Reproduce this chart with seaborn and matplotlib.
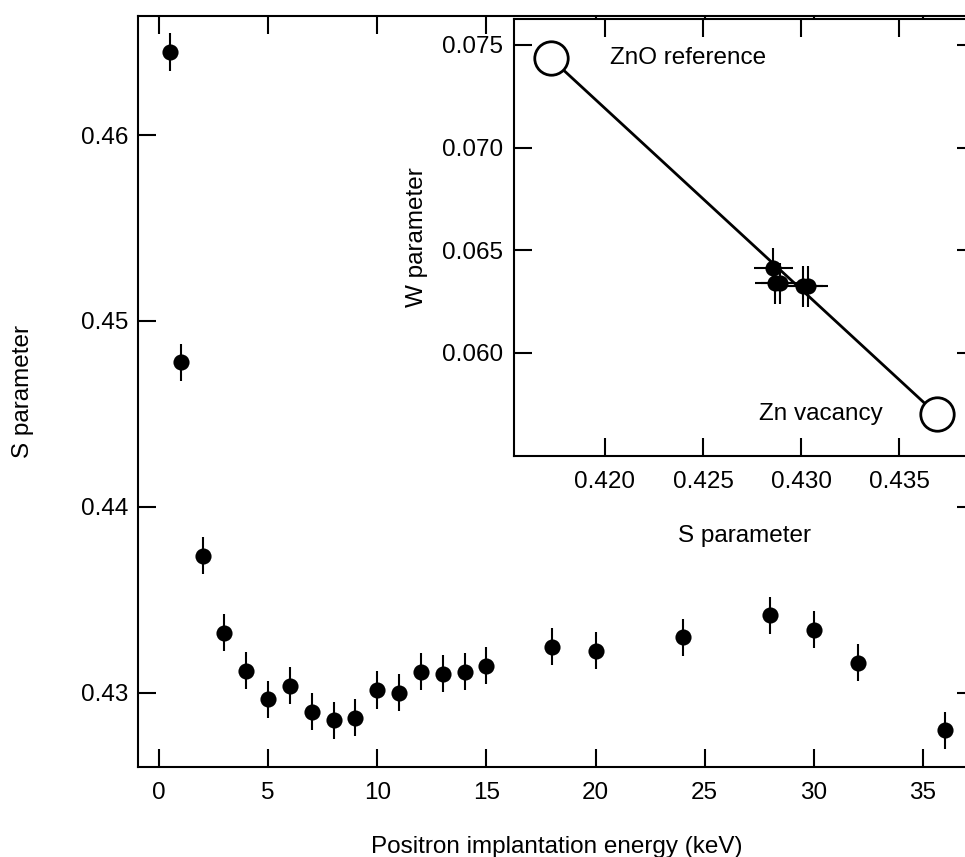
import numpy as np
import pandas as pd
import matplotlib
matplotlib.use("Agg")
import matplotlib.pyplot as plt
import seaborn as sns
from matplotlib.ticker import FormatStrFormatter

# ---- data ----
energy = [0.5, 1, 2, 3, 4, 5, 6, 7, 8, 9, 10, 11, 12, 13, 14, 15, 18, 20, 24, 28, 30, 32, 36]
s_param = [0.46447, 0.44777, 0.43738, 0.43323, 0.43120, 0.42966, 0.43038, 0.42899,
           0.42853, 0.42867, 0.43015, 0.43000, 0.43113, 0.43102, 0.43113, 0.43145,
           0.43248, 0.43226, 0.43298, 0.43418, 0.43339, 0.43162, 0.42799]
s_err = [0.001] * len(energy)

inset_s = [0.42858, 0.42867, 0.42893, 0.43010, 0.43036]
inset_w = [0.06411, 0.06338, 0.06338, 0.06325, 0.06325]
inset_s_err = [0.001] * len(inset_s)
inset_w_err = [0.001] * len(inset_w)

ref_labels = ["ZnO reference", "Zn vacancy"]
ref_s = [0.41725, 0.4369]
ref_w = [0.07435, 0.0570]
label_s = [0.42027, 0.42786]
label_w = [0.07437, 0.05704]

main_xticks = [0, 5, 10, 15, 20, 25, 30, 35]
main_yticks = [0.43, 0.44, 0.45, 0.46]
inset_xticks = [0.420, 0.425, 0.430, 0.435]
inset_yticks = [0.060, 0.065, 0.070, 0.075]

# ---- style ----
sns.set_style("white")
plt.rcParams['font.family'] = ['Liberation Sans', 'DejaVu Sans']
plt.rcParams['text.color'] = 'black'
plt.rcParams['axes.labelcolor'] = 'black'
plt.rcParams['xtick.color'] = 'black'
plt.rcParams['ytick.color'] = 'black'
FS = 17.5
plt.rcParams['font.size'] = FS

W, H = 965, 857
fig = plt.figure(figsize=(W / 100, H / 100), dpi=100)

def frac(l, t, r, b):
    return [l / W, 1 - b / H, (r - l) / W, (b - t) / H]

def style_axes(ax, xpad, ypad):
    for sp in ax.spines.values():
        sp.set_linewidth(1.5)
        sp.set_color('black')
        sp.set_visible(True)
    ax.tick_params(axis='both', which='major', direction='in', length=13, width=1.5,
                   top=True, right=True, bottom=True, left=True, colors='black',
                   labelsize=FS)
    ax.tick_params(axis='x', pad=xpad)
    ax.tick_params(axis='y', pad=ypad)

# main axes
ax = fig.add_axes(frac(138, 15.5, 975, 767))
df = pd.DataFrame({"energy": energy, "S": s_param, "err": s_err})
ax.errorbar(df["energy"], df["S"], yerr=df["err"], fmt='none', ecolor='black',
            elinewidth=1.5, capsize=0, zorder=2)
sns.scatterplot(data=df, x="energy", y="S", ax=ax, color='black', s=135,
                edgecolor='black', linewidth=0, zorder=3, legend=False)
ax.set_xlim(-0.96, 37.38)
ax.set_ylim(0.42601, 0.46643)
ax.set_xticks(main_xticks)
ax.set_yticks(main_yticks)
ax.yaxis.set_major_formatter(FormatStrFormatter('%.2f'))
style_axes(ax, xpad=11, ypad=7)
ax.set_xlabel("Positron implantation energy (keV)", fontsize=FS, labelpad=23,
              color='black')
ax.set_ylabel("S parameter", fontsize=FS, labelpad=34, color='black')

# inset
ax2 = fig.add_axes(frac(514, 18.5, 975, 456))
ax2.set_facecolor('white')
ref_df = pd.DataFrame({"S": ref_s, "W": ref_w, "name": ref_labels})
sns.lineplot(data=ref_df, x="S", y="W", ax=ax2, color='black', linewidth=2,
             sort=False, zorder=2, legend=False)
idf = pd.DataFrame({"S": inset_s, "W": inset_w, "se": inset_s_err, "we": inset_w_err})
ax2.errorbar(idf["S"], idf["W"], xerr=idf["se"], yerr=idf["we"], fmt='none',
             ecolor='black', elinewidth=1.5, capsize=0, zorder=3)
sns.scatterplot(data=idf, x="S", y="W", ax=ax2, color='black', s=135,
                edgecolor='black', linewidth=0, zorder=4, legend=False)
sns.scatterplot(data=ref_df, x="S", y="W", ax=ax2, color='white', s=580,
                edgecolor='black', linewidth=2, zorder=5, legend=False)
for name, xs, ys in zip(ref_labels, label_s, label_w):
    ax2.text(xs, ys, name, ha='left', va='center', fontsize=FS, color='black')
ax2.set_xlim(0.41538, 0.43885)
ax2.set_ylim(0.05497, 0.07629)
ax2.set_xticks(inset_xticks)
ax2.set_yticks(inset_yticks)
ax2.xaxis.set_major_formatter(FormatStrFormatter('%.3f'))
ax2.yaxis.set_major_formatter(FormatStrFormatter('%.3f'))
style_axes(ax2, xpad=11, ypad=8)
ax2.set_xlabel("S parameter", fontsize=FS, labelpad=23, color='black')
ax2.set_ylabel("W parameter", fontsize=FS, labelpad=10, color='black')

fig.savefig("out.png", dpi=100)
